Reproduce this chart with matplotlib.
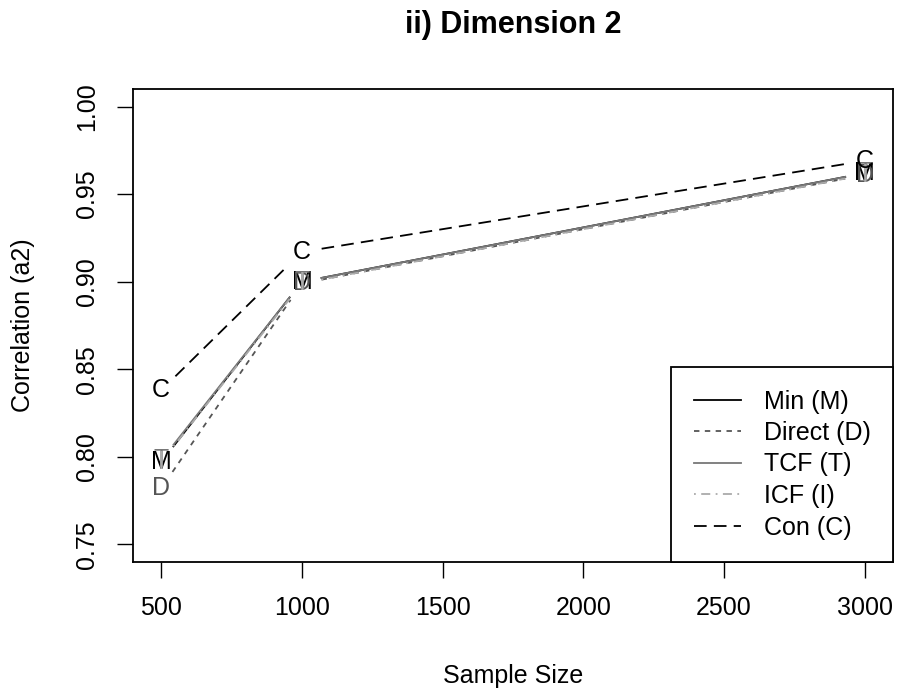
import numpy as np
import matplotlib
matplotlib.use("Agg")
from matplotlib import pyplot as plt

plt.rcParams['font.family'] = ['Liberation Sans', 'DejaVu Sans']

# sample sizes and correlation (a2) per method
sizes = [500, 1000, 3000]
corr_min = [0.797, 0.900, 0.962]
corr_direct = [0.782, 0.899, 0.961]
corr_tcf = [0.798, 0.900, 0.962]
corr_icf = [0.797, 0.899, 0.961]
corr_con = [0.838, 0.917, 0.969]

labels = ['Min (M)', 'Direct (D)', 'TCF (T)', 'ICF (I)', 'Con (C)']
letters = ['M', 'D', 'T', 'I', 'C']
series = [corr_min, corr_direct, corr_tcf, corr_icf, corr_con]
colors = ['black', '#555555', '#777777', '#aaaaaa', 'black']
dashes = [None, (3, 3), None, (1, 3, 5, 3), (7, 4)]

x_ticks = [500, 1000, 1500, 2000, 2500, 3000]
y_ticks = [0.75, 0.80, 0.85, 0.90, 0.95, 1.00]

fig = plt.figure(figsize=(8.98, 6.94), dpi=100)
ax = fig.add_axes([133 / 898, 1 - 562 / 694, 760 / 898, 473 / 694])
ax.set_xlim(400, 3100)
ax.set_ylim(0.74, 1.01)

fs = 18
gap = 20  # px left blank round each letter, like R type="b"

handles = []
for vals, let, col, ds, lab in zip(series, letters, colors, dashes, labels):
    pts = ax.transData.transform(np.column_stack([sizes, vals]))
    inv = ax.transData.inverted()
    for i in range(len(pts) - 1):
        p0, p1 = pts[i], pts[i + 1]
        d = p1 - p0
        u = d / np.hypot(*d)
        seg = inv.transform(np.array([p0 + u * gap, p1 - u * gap]))
        ln, = ax.plot(seg[:, 0], seg[:, 1], color=col, lw=1.3)
        if ds is not None:
            ln.set_dashes(ds)
    for xv, yv in zip(sizes, vals):
        ax.text(xv, yv, let, color=col, fontsize=fs, ha='center', va='center')
    h, = ax.plot([], [], color=col, lw=1.3, label=lab)
    if ds is not None:
        h.set_dashes(ds)
    handles.append(h)

ax.set_xticks(x_ticks)
ax.set_xticklabels([str(v) for v in x_ticks])
ax.set_yticks(y_ticks)
ax.set_yticklabels(['%.2f' % v for v in y_ticks], rotation=90, va='center')
ax.tick_params(direction='out', length=11.5, width=1, labelsize=fs, pad=13)
for sp in ax.spines.values():
    sp.set_linewidth(1.3)

ax.set_xlabel('Sample Size', fontsize=fs, labelpad=32)
ax.set_ylabel('Correlation (a2)', fontsize=fs, labelpad=29)
ax.set_title('ii) Dimension 2', fontsize=22, fontweight='bold', pad=40)

leg = ax.legend(handles=handles, loc='lower right', borderaxespad=0,
                fancybox=False, edgecolor='black', fontsize=fs,
                handlelength=1.9, handletextpad=0.9, labelspacing=0.3,
                borderpad=0.9, framealpha=1)
leg.get_frame().set_linewidth(1.3)

fig.savefig('out.png', dpi=100)
